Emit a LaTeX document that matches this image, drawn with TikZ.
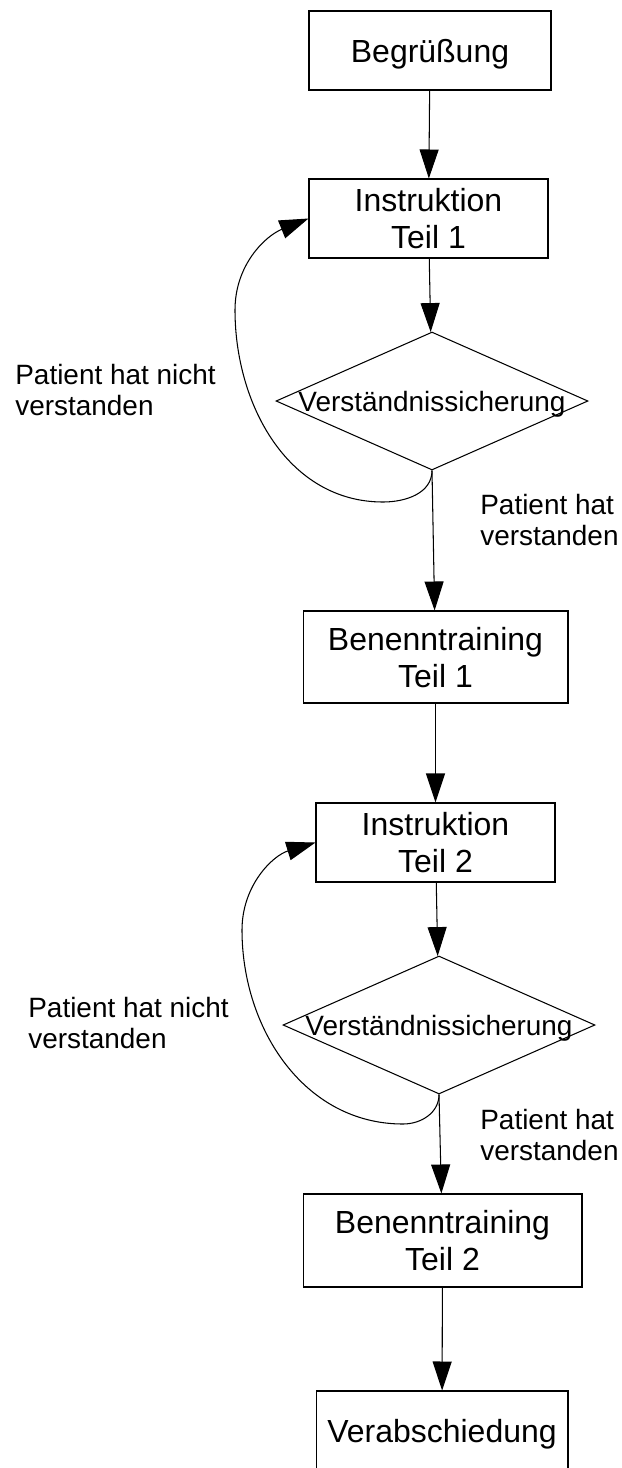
\documentclass[tikz,border=0pt]{standalone}
\usepackage{fontspec}
\setmainfont{Liberation Sans}
\usetikzlibrary{shapes.geometric}
\usetikzlibrary{arrows.meta}

\begin{document}
\begin{tikzpicture}[x=0.02cm, y=0.02cm,
    box/.style = {draw, line width=0.6pt, inner sep=0pt, align=center, text depth=0pt,
      font=\fontsize{18.2pt}{21pt}\selectfont},
    decision/.style = {draw, diamond, line width=0.6pt, inner sep=0pt, text depth=0pt,
      minimum width=6.24cm, minimum height=2.76cm, font=\fontsize{15.9pt}{18.2pt}\selectfont},
    note/.style = {align=left, inner sep=0pt, anchor=west, font=\fontsize{15.9pt}{18.2pt}\selectfont},
    flow/.style = {-{Triangle[length=0.58cm, width=0.38cm]}, line width=0.6pt}]
        \useasboundingbox (0,0) rectangle (622,-1468);
        \node[box, minimum width=4.84cm, minimum height=1.58cm] (greet) at (430,-50.5) {Begrüßung};
        \node[box, minimum width=4.78cm, minimum height=1.58cm] (instr1) at (428.5,-218.5) {Instruktion\\Teil 1};
        \node[decision] (check1) at (432,-401) {\makebox[0pt]{Verständnissicherung}};
        \node[box, minimum width=5.3cm, minimum height=1.84cm] (train1) at (435.5,-657) {Benenntraining\\Teil 1};
        \node[box, minimum width=4.78cm, minimum height=1.58cm] (instr2) at (435.5,-842.5) {Instruktion\\Teil 2};
        \node[decision] (check2) at (439,-1025) {\makebox[0pt]{Verständnissicherung}};
        \node[box, minimum width=5.58cm, minimum height=1.86cm] (train2) at (442.5,-1240.5) {Benenntraining\\Teil 2};
        \node[box, minimum width=5.04cm, minimum height=1.6cm] (bye) at (442,-1431) {Verabschiedung};

        \node[note] (notok1) at (15,-390) {Patient hat nicht\\verstanden};
        \node[note] (ok1) at (480,-520) {Patient hat\\verstanden};
        \node[note] (notok2) at (28,-1023) {Patient hat nicht\\verstanden};
        \node[note] (ok2) at (480,-1135) {Patient hat\\verstanden};

        \draw[flow] (greet) -- (instr1);
        \draw[flow] (instr1) -- (check1);
        \draw[flow] (check1.south) -- (train1);
        \draw[flow] (train1) -- (instr2);
        \draw[flow] (instr2) -- (check2);
        \draw[flow] (check2.south) -- (train2);
        \draw[flow] (train2) -- (bye);

        % loops back to the instruction
        \coordinate (low1) at (383,-502);
        \coordinate (left1) at (235,-310);
        \draw[flow] (check1.south) to[out=-90, in=0] (low1) to[out=180, in=-90] (left1) to[out=90, in=202] (instr1.west);
        \coordinate (low2) at (403,-1124);
        \coordinate (left2) at (242,-930);
        \draw[flow] (check2.south) to[out=-90, in=0] (low2) to[out=180, in=-90] (left2) to[out=90, in=197] (instr2.west);
\end{tikzpicture}
\end{document}
